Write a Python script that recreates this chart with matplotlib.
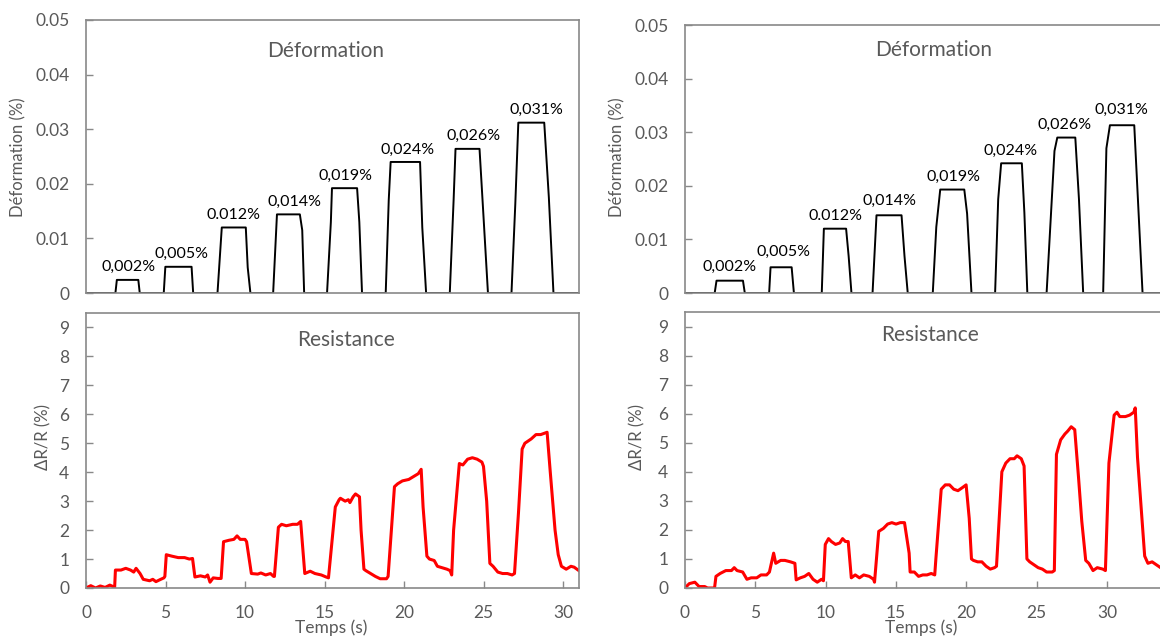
import numpy as np
import matplotlib.pyplot as plt

plt.rcParams['font.family'] = ['Lato', 'DejaVu Sans']

# ---- left experiment ----
def_t_left = [0, 1.85, 1.94, 3.29, 3.38, 4.89, 4.99, 6.64, 6.74,
              8.27, 8.54, 10.05, 10.17, 10.34,
              11.77, 12.01, 13.45, 13.6, 13.72,
              15.16, 15.4, 15.47, 17.05, 17.19, 17.36,
              18.85, 19.04, 19.16, 21.01, 21.15, 21.39,
              22.88, 23.12, 23.24, 24.75, 24.99, 25.28,
              26.76, 27.0, 27.19, 28.82, 29.11, 29.40, 31]
def_v_left = [0, 0, 0.0024, 0.0024, 0, 0, 0.0048, 0.0048, 0,
              0, 0.012, 0.012, 0.0047, 0,
              0, 0.0144, 0.0144, 0.0115, 0,
              0, 0.013, 0.0192, 0.0192, 0.013, 0,
              0, 0.017, 0.024, 0.024, 0.012, 0,
              0, 0.017, 0.0264, 0.0264, 0.0145, 0,
              0, 0.0163, 0.0312, 0.0312, 0.0175, 0, 0]
lab_left = ['0,002%', '0,005%', '0.012%', '0,014%', '0,019%', '0,024%', '0,026%', '0,031%']
lab_x_left = [2.7, 6.0, 9.3, 13.1, 16.3, 20.2, 24.4, 28.3]
lab_y_left = [0.0024, 0.0048, 0.012, 0.0144, 0.0192, 0.024, 0.0264, 0.0312]

res_t_left = [0, 0.3, 0.6, 0.9, 1.2, 1.5, 1.7, 1.8, 1.85, 2.2, 2.5, 2.8, 3.0, 3.15, 3.4, 3.6,
              4.0, 4.2, 4.4, 4.7, 4.9, 4.96, 5.05, 5.4, 5.8, 6.2, 6.5, 6.7, 6.85, 7.2, 7.5, 7.65,
              7.8, 8.0, 8.3, 8.5, 8.65, 9.0, 9.3, 9.5, 9.7, 10.0, 10.1, 10.4, 10.8, 11.0, 11.3,
              11.6, 11.8, 11.85, 12.1, 12.3, 12.6, 13.0, 13.3, 13.5, 13.6, 13.76, 14.1, 14.4,
              14.8, 15.1, 15.25, 15.68, 15.92, 16.0, 16.3, 16.5, 16.6, 16.8, 16.95, 17.2, 17.3,
              17.48, 17.6, 17.9, 18.2, 18.5, 18.9, 19.0, 19.4, 19.6, 19.9, 20.3, 20.6, 20.9,
              21.08, 21.2, 21.44, 21.6, 21.9, 22.1, 22.4, 22.7, 22.9, 23.0, 23.12, 23.48, 23.7,
              24.0, 24.3, 24.6, 24.9, 25.0, 25.2, 25.4, 25.6, 25.9, 26.2, 26.5, 26.8, 26.95,
              27.2, 27.43, 27.6, 28.0, 28.3, 28.6, 29.0, 29.2, 29.5, 29.7, 29.9, 30.2, 30.5,
              30.7, 31.0]
res_v_left = [0.0, 0.08, 0.0, 0.07, 0.02, 0.1, 0.05, 0.0, 0.62, 0.62, 0.68, 0.62, 0.55, 0.68, 0.5, 0.3,
              0.25, 0.3, 0.22, 0.3, 0.35, 0.4, 1.15, 1.1, 1.05, 1.05, 1.0, 1.02, 0.38, 0.42, 0.38, 0.45,
              0.2, 0.35, 0.33, 0.33, 1.6, 1.65, 1.68, 1.8, 1.68, 1.68, 1.6, 0.5, 0.48, 0.52, 0.45,
              0.5, 0.4, 0.4, 2.1, 2.2, 2.15, 2.2, 2.2, 2.3, 1.6, 0.5, 0.58, 0.5,
              0.45, 0.38, 0.35, 2.8, 3.05, 3.1, 3.0, 3.05, 2.95, 3.15, 3.25, 3.15, 2.0,
              0.65, 0.6, 0.5, 0.4, 0.32, 0.32, 0.4, 3.5, 3.6, 3.7, 3.75, 3.85, 3.95,
              4.1, 2.8, 1.1, 1.0, 0.95, 0.75, 0.7, 0.65, 0.6, 0.45, 2.0, 4.3, 4.25,
              4.45, 4.5, 4.45, 4.35, 4.2, 3.0, 0.85, 0.75, 0.55, 0.5, 0.5, 0.45, 0.5,
              2.6, 4.8, 5.0, 5.15, 5.3, 5.3, 5.38, 4.0, 2.0, 1.15, 0.75, 0.65, 0.75,
              0.72, 0.6]

# ---- right experiment ----
def_t_right = [0, 2.11, 2.24, 4.12, 4.25, 5.98, 6.08, 7.58, 7.74,
               9.72, 9.87, 11.45, 11.63, 11.83,
               13.33, 13.61, 15.39, 15.6, 15.83,
               17.61, 17.86, 18.14, 19.85, 20.05, 20.36,
               22.04, 22.26, 22.47, 23.94, 24.12, 24.33,
               25.70, 26.26, 26.46, 27.74, 28.0, 28.3,
               29.72, 29.95, 30.2, 31.93, 32.19, 32.52, 35]
def_v_right = [0, 0, 0.0023, 0.0023, 0, 0, 0.0048, 0.0048, 0,
               0, 0.012, 0.012, 0.0069, 0,
               0, 0.0145, 0.0145, 0.0069, 0,
               0, 0.0123, 0.0193, 0.0193, 0.0148, 0,
               0, 0.0175, 0.0242, 0.0242, 0.015, 0,
               0, 0.0265, 0.029, 0.029, 0.0175, 0,
               0, 0.027, 0.0313, 0.0313, 0.0175, 0, 0]
lab_right = ['0,002%', '0,005%', '0.012%', '0,014%', '0,019%', '0,024%', '0,026%', '0,031%']
lab_x_right = [3.2, 7.0, 10.7, 14.5, 19.1, 23.15, 27.0, 31.05]
lab_y_right = [0.0026, 0.0053, 0.012, 0.0148, 0.0193, 0.0242, 0.029, 0.0318]

res_t_right = [0, 0.3, 0.7, 1.0, 1.4, 1.6, 2.1, 2.2, 2.5, 2.9, 3.3, 3.5, 3.7, 4.1, 4.4, 4.7,
               5.1, 5.4, 5.8, 6.0, 6.3, 6.45, 6.8, 7.1, 7.5, 7.81, 7.9, 8.2, 8.5, 8.8, 9.1,
               9.4, 9.7, 9.84, 9.97, 10.2, 10.4, 10.7, 11.0, 11.2, 11.4, 11.6, 11.82, 12.1,
               12.4, 12.7, 13.1, 13.4, 13.47, 13.77, 14.1, 14.4, 14.7, 15.0, 15.3, 15.6, 15.93,
               16.0, 16.3, 16.6, 16.9, 17.2, 17.5, 17.75, 17.83, 18.21, 18.5, 18.8, 19.1, 19.4,
               19.7, 19.98, 20.2, 20.36, 20.5, 20.8, 21.1, 21.4, 21.7, 22.0, 22.14, 22.52, 22.8,
               23.1, 23.4, 23.6, 23.9, 24.1, 24.3, 24.5, 24.8, 25.1, 25.4, 25.7, 26.1, 26.25,
               26.4, 26.7, 27.0, 27.2, 27.45, 27.7, 27.97, 28.2, 28.48, 28.7, 29.0, 29.3, 29.7,
               29.88, 30.13, 30.5, 30.7, 30.9, 31.3, 31.6, 31.9, 32.0, 32.16, 32.67, 32.9, 33.2,
               33.5, 33.8, 35.0]
res_v_right = [0, 0.15, 0.2, 0.05, 0.05, 0.0, 0.0, 0.4, 0.5, 0.6, 0.6, 0.7, 0.6, 0.55, 0.3, 0.35,
               0.35, 0.45, 0.45, 0.55, 1.2, 0.85, 0.95, 0.95, 0.9, 0.85, 0.28, 0.35, 0.4, 0.5, 0.3,
               0.2, 0.3, 0.25, 1.5, 1.7, 1.6, 1.5, 1.55, 1.7, 1.6, 1.6, 0.35, 0.45,
               0.35, 0.45, 0.4, 0.3, 0.2, 1.95, 2.05, 2.2, 2.25, 2.2, 2.25, 2.25, 1.2,
               0.55, 0.55, 0.4, 0.45, 0.45, 0.5, 0.45, 1.0, 3.4, 3.55, 3.55, 3.4, 3.35,
               3.45, 3.55, 2.4, 1.0, 0.95, 0.9, 0.9, 0.75, 0.65, 0.7, 0.75, 4.0, 4.3,
               4.45, 4.45, 4.55, 4.45, 4.2, 1.0, 0.9, 0.8, 0.7, 0.65, 0.55, 0.55, 0.6,
               4.6, 5.1, 5.3, 5.4, 5.55, 5.45, 3.8, 2.3, 0.95, 0.85, 0.6, 0.7, 0.65,
               0.6, 4.3, 5.95, 6.05, 5.9, 5.9, 5.95, 6.05, 6.2, 4.5, 1.1, 0.85, 0.9,
               0.8, 0.7, 0.7]

time_ticks = [0, 5, 10, 15, 20, 25, 30]

GRAY = '#595959'
FRAME = '#898989'
W, H = 1160, 637

fig = plt.figure(figsize=(W / 100, H / 100), dpi=100)


def px_axes(x0, x1, y0, y1):
    # pixel box (left, right, top, bottom) -> figure axes
    return fig.add_axes([x0 / W, 1 - y1 / H, (x1 - x0) / W, (y1 - y0) / H])


def style(ax):
    for s in ax.spines.values():
        s.set_color(FRAME)
        s.set_linewidth(1.2)
    ax.tick_params(direction='in', length=5, width=1, color=FRAME,
                   labelcolor=GRAY, labelsize=12.5, pad=12)


panels = [
    dict(left=86, right=86 + 31 * 15.9, xmax=31, top_y=20, bot_y=313,
         dt=def_t_left, dv=def_v_left, labs=lab_left, lx=lab_x_left, ly=lab_y_left,
         rt=res_t_left, rv=res_v_left,
         title1=(326, 51), title2=(346, 340), xlab=331, ylab1=18, ylab2=43),
    dict(left=685, right=685 + 35 * 14.07, xmax=35, top_y=25, bot_y=312,
         dt=def_t_right, dv=def_v_right, labs=lab_right, lx=lab_x_right, ly=lab_y_right,
         rt=res_t_right, rv=res_v_right,
         title1=(934, 50), title2=(930, 335), xlab=921, ylab1=617, ylab2=637),
]

for p in panels:
    # strain
    ax1 = px_axes(p['left'], p['right'], p['top_y'], 293)
    ax1.plot(p['dt'], p['dv'], color='black', lw=1.4)
    ax1.set_xlim(0, p['xmax'])
    ax1.set_ylim(0, 0.05)
    ax1.set_yticks([0, 0.01, 0.02, 0.03, 0.04, 0.05])
    ax1.set_yticklabels(['0', '0.01', '0.02', '0.03', '0.04', '0.05'])
    ax1.set_xticks([])
    style(ax1)
    for txt, x, y in zip(p['labs'], p['lx'], p['ly']):
        ax1.annotate(txt, (x, y), xytext=(0, 4), textcoords='offset points',
                     ha='center', va='bottom', fontsize=11.5, color='black')

    # resistance
    ax2 = px_axes(p['left'], p['right'], p['bot_y'], 588)
    ax2.plot(p['rt'], p['rv'], color='#ff0000', lw=2.2)
    ax2.set_xlim(0, p['xmax'])
    ax2.set_ylim(0, 9.5)
    ax2.set_yticks(range(10))
    ax2.set_xticks(time_ticks)
    style(ax2)

    fig.text(p['title1'][0] / W, 1 - p['title1'][1] / H, 'Déformation',
             ha='center', va='center', fontsize=15, color=GRAY)
    fig.text(p['title2'][0] / W, 1 - p['title2'][1] / H, 'Resistance',
             ha='center', va='center', fontsize=15, color=GRAY)
    fig.text(p['xlab'] / W, 1 - 628 / H, 'Temps (s)',
             ha='center', va='center', fontsize=12.5, color=GRAY)
    fig.text(p['ylab1'] / W, 1 - 157 / H, 'Déformation (%)', rotation=90,
             ha='center', va='center', fontsize=12, color=GRAY)
    fig.text(p['ylab2'] / W, 1 - 437 / H, 'ΔR/R (%)', rotation=90,
             ha='center', va='center', fontsize=12, color=GRAY)

fig.savefig('out.png', dpi=100)
